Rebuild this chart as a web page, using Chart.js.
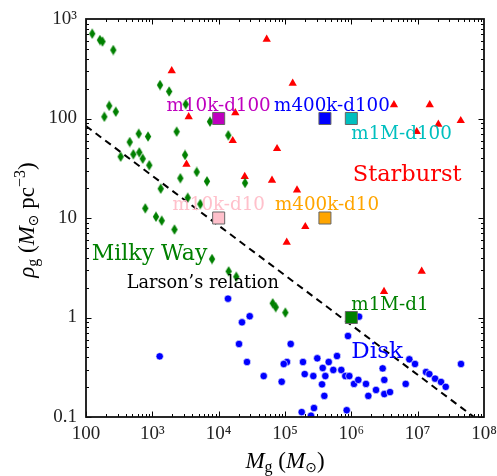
<!DOCTYPE html>
<html><head><meta charset="utf-8">
<script src="https://cdn.jsdelivr.net/npm/chart.js@4.4.1/dist/chart.umd.min.js"></script>
<style>html,body{margin:0;padding:0;background:#fff;}</style>
</head><body>
<canvas id="c" width="497" height="476"></canvas>
<script>
// ---- tick values / labels ----
const xTicks = [1e2, 1e3, 1e4, 1e5, 1e6, 1e7, 1e8];
const xTickLabels = ['100', '10³', '10⁴', '10⁵', '10⁶', '10⁷', '10⁸'];
const yTicks = [0.1, 1, 10, 100, 1000];
const yTickLabels = ['0.1', '1', '10', '100', '10³'];

// ---- Milky Way clouds (green diamonds) ----
const milkyWayMass = [124,162,177,258,189,224,281,333,456,517,623,636,716,861,900,1306,1795,1337,783,1135,1384,2158,2328,3184,3110,2642,3413,4664,5287,6668,7397,13960,24950,7943,14160,18450,65310,72440,101200];
const milkyWayDensity = [711,615,594,488,104,134,117,41.3,58,43.7,70.3,45.7,39.4,65.9,33.9,217,187,19.7,12.5,10.3,9.4,7.66,73.7,139,43,25.1,16.0,29.0,13.8,23.4,92.9,67.8,22.5,3.87,2.91,2.57,1.39,1.27,1.12];

// ---- Starburst clouds (red triangles) ----
const starburstMass = [1960,3532,3273,17810,16290,24720,52970,130600,4.39e6,1.52e7,2.05e7,4.46e7,9.68e6,75860,63680,151800,202400,106200,1.15e7,3.11e6];
const starburstDensity = [302,104,34.7,114,59.8,26.1,625,226,137,137,87.5,95,73.7,49.7,23.9,19.1,8.18,5.70,2.91,1.82];

// ---- Disk clouds (blue circles) ----
const diskMass = [1291,13830,22480,29380,20270,121900,26730,107200,95700,47750,89160,186700,306700,456000,608300,198200,267300,370400,405500,534600,705800,811300,932600,361600,391600,1.097e6,1.273e6,890400,1.306e6,178600,273600,246500,851500,1.663e6,1.803e6,2.356e6,2.97e6,3.14e6,3.14e6,3.83e6,6.6e6,7.49e6,9.12e6,1.336e7,1.50e7,1.83e7,2.25e7,2.65e7,4.50e7];
const diskDensity = [0.407,1.545,0.895,1.03,0.542,0.542,0.357,0.357,0.341,0.258,0.226,0.357,0.389,0.357,0.410,0.270,0.258,0.311,0.258,0.297,0.297,0.258,0.258,0.213,0.163,0.215,0.236,0.652,1.02,0.112,0.123,0.103,0.117,0.215,0.163,0.187,0.308,0.236,0.170,0.178,0.215,0.380,0.341,0.283,0.270,0.243,0.225,0.201,0.341];

// ---- simulations (squares) ----
const simNames = ['m10k-d100','m400k-d100','m1M-d100','m10k-d10','m400k-d10','m1M-d1'];
const simMass = [1e4, 4e5, 1e6, 1e4, 4e5, 1e6];
const simDensity = [100, 100, 100, 10, 10, 1];
const simColors = ['#bf00bf','#0000ff','#00bfbf','#ffc0cb','#ffa500','#008000'];

// ---- Larson's relation (dashed line) ----
const larsonMass = [100, 1e8];
const larsonDensity = [84, 0.084];

// ---- text annotations (data-space anchors) ----
const notes = [
  {text:'m10k-d100',  x:1e4,   y:120,  align:'center', color:'#bf00bf', font:'18.3px "DejaVu Serif"'},
  {text:'m400k-d100', x:5.1e5, y:120,  align:'center', color:'#0000ff', font:'18.3px "DejaVu Serif"'},
  {text:'m1M-d100',   x:1e6,   y:62,   align:'left',   color:'#00bfbf', font:'18.3px "DejaVu Serif"'},
  {text:'Starburst',  x:1.05e6,y:23.5, align:'left',   color:'#ff0000', font:'22.5px "DejaVu Serif"'},
  {text:'m10k-d10',   x:1e4,   y:12,   align:'center', color:'#ffc0cb', font:'18.3px "DejaVu Serif"'},
  {text:'m400k-d10',  x:4.3e5, y:12,   align:'center', color:'#ffa500', font:'18.3px "DejaVu Serif"'},
  {text:'Milky Way',  x:122,   y:3.78, align:'left',   color:'#008000', font:'22px "DejaVu Serif"'},
  {text:'Larson’s relation', x:411, y:1.96, align:'left', color:'#000000', font:'17.7px "DejaVu Serif"'},
  {text:'m1M-d1',     x:1e6,   y:1.2,  align:'left',   color:'#008000', font:'18.3px "DejaVu Serif"'},
  {text:'Disk',       x:1e6,   y:0.394,align:'left',   color:'#0000ff', font:'23px "DejaVu Serif"'}
];

const pts = (xs, ys) => xs.map((x, i) => ({x: x, y: ys[i]}));

function thinDiamond(color) {
  const c = document.createElement('canvas');
  c.width = 8; c.height = 11;
  const g = c.getContext('2d');
  g.fillStyle = color;
  g.beginPath();
  g.moveTo(4, 0.3); g.lineTo(7.2, 5.5); g.lineTo(4, 10.7); g.lineTo(0.8, 5.5);
  g.closePath(); g.fill();
  return c;
}

function drawRich(ctx, pieces, x, y, rot) {
  ctx.save();
  ctx.translate(x, y); ctx.rotate(rot);
  let total = 0;
  pieces.forEach(p => { ctx.font = p.f; p.w = ctx.measureText(p.t).width; total += p.w; });
  let cx = -total / 2;
  ctx.textAlign = 'left'; ctx.textBaseline = 'alphabetic'; ctx.fillStyle = '#000';
  pieces.forEach(p => { ctx.font = p.f; ctx.fillText(p.t, cx, p.dy || 0); cx += p.w; });
  ctx.restore();
}

const decor = {
  id: 'decor',
  afterDatasetsDraw(chart) {
    const ctx = chart.ctx, a = chart.chartArea, xs = chart.scales.x, ys = chart.scales.y;
    ctx.save();
    // inward tick marks on all four sides
    ctx.strokeStyle = '#000'; ctx.lineWidth = 1;
    ctx.beginPath();
    for (let k = 2; k < 8; k++) {
      for (let m = 1; m <= 9; m++) {
        const v = m * Math.pow(10, k);
        const px = Math.round(xs.getPixelForValue(v)) + 0.5;
        const len = m === 1 ? 5.5 : 3;
        ctx.moveTo(px, a.bottom); ctx.lineTo(px, a.bottom - len);
        ctx.moveTo(px, a.top); ctx.lineTo(px, a.top + len);
      }
    }
    for (let k = -1; k < 3; k++) {
      for (let m = 1; m <= 9; m++) {
        const v = m * Math.pow(10, k);
        const py = Math.round(ys.getPixelForValue(v)) + 0.5;
        const len = m === 1 ? 5.5 : 3;
        ctx.moveTo(a.left, py); ctx.lineTo(a.left + len, py);
        ctx.moveTo(a.right, py); ctx.lineTo(a.right - len, py);
      }
    }
    ctx.stroke();
    // frame
    ctx.lineWidth = 1.8;
    ctx.strokeStyle = '#111';
    ctx.strokeRect(a.left, a.top, a.right - a.left, a.bottom - a.top);
    // annotations
    ctx.textBaseline = 'alphabetic';
    notes.forEach(n => {
      ctx.font = n.font; ctx.fillStyle = n.color; ctx.textAlign = n.align;
      ctx.fillText(n.text, xs.getPixelForValue(n.x), ys.getPixelForValue(n.y));
    });
    // axis titles
    const serif = '"Liberation Serif", serif';
    drawRich(ctx, [
      {t:'M', f:'italic 23px ' + serif},
      {t:'g', f:'16px ' + serif, dy:4},
      {t:' (', f:'23px ' + serif},
      {t:'M', f:'italic 23px ' + serif},
      {t:'⊙', f:'14px "DejaVu Sans"', dy:4},
      {t:')', f:'23px ' + serif}
    ], (a.left + a.right) / 2, 468, 0);
    drawRich(ctx, [
      {t:'ρ', f:'italic 23px ' + serif},
      {t:'g', f:'16px ' + serif, dy:4},
      {t:' (', f:'23px ' + serif},
      {t:'M', f:'italic 23px ' + serif},
      {t:'⊙', f:'14px "DejaVu Sans"', dy:4},
      {t:' pc', f:'23px ' + serif},
      {t:'−3', f:'16px ' + serif, dy:-9},
      {t:')', f:'23px ' + serif}
    ], 34, (a.top + a.bottom) / 2 + 2, -Math.PI / 2);
    ctx.restore();
  }
};

const tickFont = {family: '"Liberation Serif", serif', size: 19};

new Chart(document.getElementById('c'), {
  type: 'scatter',
  data: {
    datasets: [
      { label: 'Simulations', data: pts(simMass, simDensity),
        pointStyle: 'rect', pointRadius: 8.5, pointBackgroundColor: simColors,
        pointBorderColor: '#666', pointBorderWidth: 1 },
      { label: "Larson's relation", data: pts(larsonMass, larsonDensity),
        showLine: true, pointRadius: 0, borderColor: '#000', borderWidth: 2, borderDash: [7, 5] },
      { label: 'Disk', data: pts(diskMass, diskDensity),
        pointStyle: 'circle', pointRadius: 3.7, pointBackgroundColor: '#0000ff',
        pointBorderColor: 'rgba(255,255,255,0.85)', pointBorderWidth: 0.7 },
      { label: 'Milky Way', data: pts(milkyWayMass, milkyWayDensity),
        pointStyle: thinDiamond('#008000'), pointRadius: 5 },
      { label: 'Starburst', data: pts(starburstMass, starburstDensity),
        pointStyle: 'triangle', pointRadius: 4.8, pointBackgroundColor: '#ff0000',
        pointBorderColor: '#ff0000', pointBorderWidth: 0 }
    ]
  },
  options: {
    responsive: false, animation: false,
    layout: {padding: {left: 0, right: 13, top: 19, bottom: 0}},
    plugins: {legend: {display: false}, tooltip: {enabled: false}},
    scales: {
      x: {
        type: 'logarithmic', position: 'bottom', min: 100, max: 1e8,
        afterBuildTicks: s => { s.ticks = xTicks.map(v => ({value: v})); },
        afterFit: s => { s.height = 59; s.paddingLeft = 0; s.paddingRight = 0; },
        grid: {display: false, drawTicks: false}, border: {display: false},
        ticks: {autoSkip: false, maxRotation: 0, padding: 6, color: '#222', font: tickFont,
          callback: v => { const i = xTicks.indexOf(v); return i >= 0 ? xTickLabels[i] : ''; }}
      },
      y: {
        type: 'logarithmic', position: 'left', min: 0.1, max: 1000,
        afterBuildTicks: s => { s.ticks = yTicks.map(v => ({value: v})); },
        afterFit: s => { s.width = 86; s.paddingTop = 0; s.paddingBottom = 0; },
        grid: {display: false, drawTicks: false}, border: {display: false},
        ticks: {autoSkip: false, padding: 9, color: '#222', font: tickFont,
          callback: v => { const i = yTicks.indexOf(v); return i >= 0 ? yTickLabels[i] : ''; }}
      }
    }
  },
  plugins: [decor]
});
</script>
</body></html>
